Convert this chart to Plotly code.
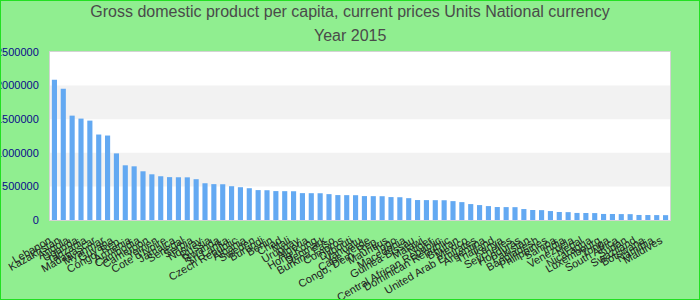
import plotly.graph_objects as go

countries = [
    "Lebanon", "Kazakhstan", "Angola", "Uganda", "Tanzania", "Madagascar", "Myanmar", "Guyana",
    "Congo, Rep.", "Armenia", "Cambodia", "Cameroon", "Yemen", "Cote d'Ivoire", "Jamaica", "Senegal",
    "Serbia", "Norway", "Russia", "Rwanda", "Sri Lanka", "Czech Republic", "Albania", "Sweden",
    "Burundi", "Benin", "Chad", "Mali", "Uruguay", "Algeria", "Hong Kong", "Denmark",
    "Burkina Faso", "Comoros", "Djibouti", "Vanuatu", "Cape Verde", "Congo, Dem. Rep.", "Mauritius", "Togo",
    "Macedonia", "Guinea-Bissau", "Malawi", "Niger", "Central African Republic", "Dominican Republic", "Bhutan", "Mexico",
    "United Arab Emirates", "Argentina", "Thailand", "Kenya", "Seychelles", "Honduras", "Pakistan", "Bangladesh",
    "Philippines", "Samoa", "India", "Venezuela", "Nepal", "Nicaragua", "Luxembourg", "Tonga",
    "South Africa", "Sudan", "Swaziland", "Botswana", "Namibia", "Maldives",
]

gdp_per_capita = [
    2086000, 1953000, 1553000, 1509000, 1479000, 1272000, 1257000, 991000,
    814000, 799000, 725000, 680000, 651000, 638000, 636000, 635000,
    607000, 547000, 534000, 532000, 503000, 488000, 473000, 445000,
    443000, 430000, 429000, 428000, 400000, 399000, 398000, 385000,
    371000, 370000, 369000, 356000, 355000, 354000, 341000, 339000,
    325000, 297000, 296000, 295000, 294000, 281000, 266000, 237000,
    222000, 207000, 193000, 192000, 191000, 163000, 149000, 147000,
    133000, 119000, 117000, 105000, 104000, 103000, 90000, 89000,
    88000, 87000, 75000, 74000, 73000, 72000,
]

title_line1 = "Gross domestic product per capita, current prices Units National currency"
title_line2 = "Year 2015"
y_ticks = [0, 500000, 1000000, 1500000, 2000000, 2500000]
bands = [(500000, 1000000), (1500000, 2000000)]

W, H = 700, 300
ML, MR, MT, MB = 50, 30, 52, 80
pw, ph = W - ML - MR, H - MT - MB

fig = go.Figure()
fig.add_trace(go.Bar(x=countries, y=gdp_per_capita, marker=dict(color="#63A9F2", line=dict(width=0))))

shapes = []
for y0, y1 in bands:
    shapes.append(dict(type="rect", xref="paper", yref="y", x0=0, x1=1, y0=y0, y1=y1,
                       fillcolor="#F2F2F2", line=dict(width=0), layer="below"))
# outer border of the whole figure
shapes.append(dict(type="rect", xref="paper", yref="paper",
                   x0=-ML / pw, x1=1 + MR / pw, y0=-MB / ph, y1=1 + MT / ph,
                   line=dict(color="#22E022", width=2), fillcolor="rgba(0,0,0,0)"))

title_font = dict(family="Liberation Sans, Arial", size=16, color="#4A4A4A")

fig.update_layout(
    width=W, height=H,
    margin=dict(l=ML, r=MR, t=MT, b=MB, autoexpand=False),
    paper_bgcolor="#90EE90",
    plot_bgcolor="#FFFFFF",
    bargap=0.42,
    showlegend=False,
    shapes=shapes,
    title=dict(
        text=title_line1,
        x=0.5, xref="container", xanchor="center",
        y=1 - 6 / H, yref="container", yanchor="top",
        font=title_font,
    ),
    annotations=[dict(
        text=title_line2, xref="paper", yref="paper",
        x=(W / 2 - ML) / pw, y=1 + (MT - 36) / ph,
        xanchor="center", yanchor="middle", showarrow=False, font=title_font,
    )],
    font=dict(family="Liberation Sans, Arial"),
)
fig.update_xaxes(
    type="category", automargin=False,
    tickmode="array", tickvals=countries, ticktext=countries,
    tickangle=-30,
    tickfont=dict(size=11, color="#222222"),
    showgrid=False, showline=True, linecolor="#D3D3D3", linewidth=1, mirror=True,
    ticks="", zeroline=False, ticklabelstandoff=9, ticklabelshift=-5,
)
fig.update_yaxes(
    range=[0, 2500000], automargin=False,
    tickmode="array", tickvals=y_ticks, ticktext=[str(v) for v in y_ticks],
    tickfont=dict(size=11, color="#0A0A8A"),
    showgrid=False, showline=True, linecolor="#D3D3D3", linewidth=1, mirror=True,
    zeroline=False, ticks="", ticklabelstandoff=8,
)

fig.write_html("out.html")
